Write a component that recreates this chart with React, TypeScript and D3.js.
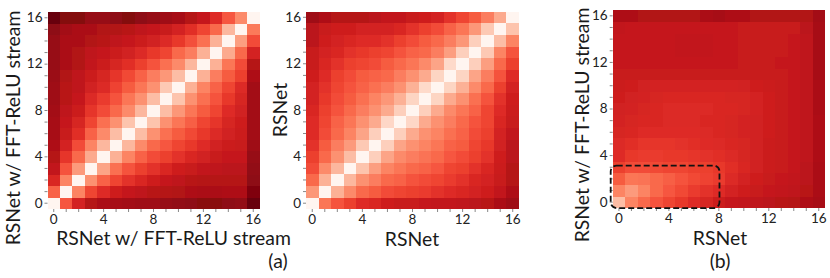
import { useEffect, useRef } from "react";
import * as d3 from "d3";

// cell values, row 0 = bottom row of the heatmap, in hundredths of the Reds scale
const leftMatrix = [
  [0, 55, 72, 82, 85, 86, 87, 88, 88, 90, 91, 92, 93, 93, 92, 91, 100],
  [52, 0, 42, 60, 68, 74, 77, 79, 81, 82, 83, 84, 85, 85, 84, 84, 95],
  [70, 42, 0, 38, 52, 60, 66, 70, 74, 77, 79, 81, 82, 82, 82, 82, 92],
  [78, 56, 35, 0, 32, 48, 56, 62, 66, 70, 74, 76, 78, 79, 80, 80, 91],
  [82, 65, 50, 30, 0, 28, 42, 52, 58, 62, 66, 70, 73, 76, 77, 77, 90],
  [84, 72, 58, 42, 26, 0, 26, 40, 50, 55, 60, 64, 68, 73, 75, 76, 88],
  [86, 76, 67, 52, 40, 24, 0, 24, 38, 48, 54, 59, 64, 69, 73, 75, 87],
  [86, 77, 71, 60, 48, 38, 22, 0, 22, 38, 46, 53, 60, 65, 71, 74, 87],
  [87, 79, 75, 65, 58, 50, 40, 26, 0, 24, 36, 46, 54, 60, 68, 73, 87],
  [88, 81, 77, 69, 63, 56, 46, 38, 24, 0, 22, 38, 48, 56, 64, 71, 87],
  [88, 81, 79, 73, 69, 61, 54, 46, 38, 20, 0, 28, 42, 52, 60, 69, 87],
  [89, 83, 79, 75, 71, 65, 59, 52, 44, 36, 24, 0, 28, 44, 54, 62, 84],
  [90, 85, 83, 78, 75, 71, 67, 62, 56, 48, 40, 26, 0, 28, 46, 58, 82],
  [90, 85, 83, 79, 77, 75, 73, 69, 64, 60, 50, 44, 28, 0, 30, 50, 72],
  [90, 85, 85, 83, 81, 79, 77, 75, 73, 69, 64, 57, 48, 28, 0, 34, 58],
  [92, 87, 85, 85, 83, 83, 81, 79, 77, 76, 72, 67, 60, 50, 26, 0, 45],
  [100, 94, 94, 90, 90, 92, 94, 92, 90, 88, 86, 82, 77, 68, 55, 40, 0],
];

const middleMatrix = [
  [0, 46, 56, 62, 68, 70, 74, 76, 76, 77, 78, 78, 79, 80, 81, 85, 88],
  [36, 0, 28, 40, 50, 54, 58, 60, 62, 63, 66, 68, 70, 72, 74, 78, 84],
  [50, 28, 0, 26, 38, 44, 50, 52, 56, 58, 60, 63, 66, 70, 72, 76, 82],
  [58, 40, 26, 0, 22, 34, 42, 46, 50, 52, 55, 60, 62, 66, 70, 75, 82],
  [62, 50, 38, 24, 0, 18, 32, 40, 44, 47, 50, 55, 58, 62, 66, 74, 80],
  [66, 54, 44, 35, 20, 0, 18, 32, 38, 42, 46, 52, 54, 60, 64, 73, 80],
  [68, 58, 50, 42, 32, 18, 0, 18, 30, 38, 42, 48, 52, 58, 62, 72, 78],
  [68, 60, 52, 46, 38, 30, 15, 0, 15, 30, 38, 44, 50, 56, 60, 70, 76],
  [70, 62, 56, 50, 44, 38, 30, 18, 0, 18, 30, 40, 46, 52, 60, 68, 75],
  [72, 64, 58, 54, 48, 42, 36, 28, 16, 0, 16, 30, 38, 48, 56, 66, 74],
  [72, 66, 60, 56, 52, 48, 44, 38, 28, 14, 0, 16, 28, 40, 50, 62, 72],
  [74, 68, 62, 58, 54, 52, 50, 44, 38, 30, 16, 0, 16, 32, 44, 56, 68],
  [76, 70, 66, 62, 60, 58, 54, 50, 46, 40, 32, 14, 0, 18, 34, 50, 62],
  [76, 72, 70, 66, 64, 62, 60, 56, 52, 50, 44, 34, 18, 0, 20, 42, 56],
  [80, 74, 72, 70, 68, 68, 66, 62, 58, 54, 50, 44, 36, 18, 0, 24, 42],
  [80, 76, 74, 74, 72, 72, 72, 70, 66, 62, 58, 52, 46, 36, 20, 0, 22],
  [88, 84, 82, 82, 82, 80, 78, 78, 76, 74, 72, 66, 60, 54, 44, 30, 0],
];

const rightMatrix = [
  [24, 42, 50, 56, 60, 64, 68, 71, 75, 77, 78, 79, 80, 81, 82, 84, 86],
  [42, 35, 42, 50, 55, 59, 63, 66, 68, 72, 74, 76, 77, 78, 79, 81, 85],
  [54, 46, 47, 50, 53, 56, 59, 61, 63, 69, 72, 74, 76, 77, 78, 80, 85],
  [62, 58, 58, 59, 60, 60, 62, 62, 64, 67, 70, 73, 75, 76, 77, 80, 85],
  [68, 64, 63, 63, 64, 64, 65, 66, 67, 69, 71, 73, 75, 76, 77, 79, 84],
  [69, 67, 65, 65, 65, 66, 67, 68, 69, 70, 71, 73, 75, 76, 77, 79, 84],
  [71, 70, 68, 68, 68, 68, 68, 69, 70, 71, 72, 73, 74, 76, 77, 79, 84],
  [72, 71, 70, 70, 69, 69, 69, 70, 70, 71, 72, 73, 74, 76, 77, 79, 84],
  [73, 72, 71, 70, 69, 69, 69, 69, 70, 70, 71, 72, 74, 76, 77, 79, 85],
  [74, 73, 72, 71, 70, 70, 70, 70, 70, 71, 71, 72, 74, 76, 77, 79, 85],
  [75, 74, 73, 72, 72, 72, 72, 72, 72, 72, 73, 74, 75, 76, 77, 79, 85],
  [76, 76, 76, 76, 76, 76, 76, 76, 76, 76, 76, 76, 76, 76, 77, 79, 86],
  [77, 77, 77, 77, 77, 77, 77, 77, 77, 77, 76, 76, 76, 77, 77, 79, 86],
  [77, 77, 77, 77, 77, 78, 78, 78, 77, 77, 76, 76, 76, 76, 77, 79, 86],
  [77, 77, 77, 77, 77, 78, 78, 78, 77, 77, 76, 76, 76, 76, 77, 79, 86],
  [78, 77, 77, 77, 77, 77, 77, 77, 77, 77, 76, 76, 76, 76, 76, 80, 86],
  [84, 84, 83, 83, 83, 83, 83, 85, 86, 84, 84, 83, 83, 83, 83, 83, 87],
];

const cellIndex = d3.range(17);
const labelledTicks = [0, 4, 8, 12, 16];
const fontFamily = "Lato, 'Open Sans', sans-serif";

function drawHeatmap(svg: any, matrix: number[][], box: any) {
  const x = d3.scaleBand<number>().domain(cellIndex).range([box.left, box.right]);
  const y = d3.scaleBand<number>().domain(cellIndex).range([box.bottom, box.top]);
  const color = (v: number) => d3.interpolateReds(v / 100);

  const g = svg.append("g").attr("filter", "url(#soften)");
  matrix.forEach((row, r) => {
    g.selectAll(null)
      .data(row)
      .join("rect")
      .attr("x", (_d: number, c: number) => x(c))
      .attr("y", y(r))
      .attr("width", x.bandwidth() + 0.3)
      .attr("height", y.bandwidth() + 0.3)
      .attr("shape-rendering", "crispEdges")
      .attr("fill", (d: number) => color(d));
  });

  const tickFormat = (d: number) => (labelledTicks.includes(d) ? String(d) : "");

  const xAxis = svg.append("g")
    .attr("transform", `translate(0,${box.bottom})`)
    .call(d3.axisBottom(x).tickSize(3).tickPadding(2).tickFormat(tickFormat as any));
  const yAxis = svg.append("g")
    .attr("transform", `translate(${box.left},0)`)
    .call(d3.axisLeft(y).tickSize(3).tickPadding(2).tickFormat(tickFormat as any));

  [xAxis, yAxis].forEach((a) => {
    a.select(".domain").remove();
    a.selectAll("line").attr("stroke", "#555").attr("stroke-width", 0.7);
    a.selectAll("text")
      .attr("font-family", fontFamily)
      .attr("font-size", 13.5)
      .attr("fill", "#222");
  });

  return { x, y };
}

function addText(svg: any, str: string, px: number, py: number, size: number, rotate = false) {
  svg.append("text")
    .attr("text-anchor", "middle")
    .attr("dominant-baseline", "middle")
    .attr("transform", `translate(${px},${py})${rotate ? " rotate(-90)" : ""}`)
    .attr("font-family", fontFamily)
    .attr("font-size", size)
    .attr("fill", "#1a1a1a")
    .text(str);
}

export default function App() {
  const svgRef = useRef<SVGSVGElement>(null);

  useEffect(() => {
    const svg = d3.select(svgRef.current);
    svg.selectAll("*").remove();

    svg.append("defs")
      .append("filter")
      .attr("id", "soften")
      .append("feGaussianBlur")
      .attr("stdDeviation", 0.45);

    drawHeatmap(svg, leftMatrix, { left: 47.5, right: 259.5, top: 12, bottom: 209 });
    drawHeatmap(svg, middleMatrix, { left: 306, right: 519, top: 11.5, bottom: 209 });
    const { x, y } = drawHeatmap(svg, rightMatrix, { left: 612.7, right: 825, top: 10, bottom: 208 });

    addText(svg, "RSNet w/ FFT-ReLU stream", 15, 128, 19.4, true);
    addText(svg, "RSNet w/ FFT-ReLU stream", 173.5, 240, 19.4);
    addText(svg, "RSNet", 282, 110, 19.4, true);
    addText(svg, "RSNet", 412, 241, 19.4);
    addText(svg, "RSNet w/ FFT-ReLU stream", 584, 125, 19.4, true);
    addText(svg, "RSNet", 720, 240, 19.4);
    addText(svg, "(a)", 278, 263, 19.4);
    addText(svg, "(b)", 720, 263, 19.4);

    // dashed region in the low-frequency corner of panel (b)
    const step = x.step();
    const bx0 = x(0)! - 2;
    const bx1 = x(8)! + step * 0.55;
    const by0 = y(2)! - step * 0.6;
    const by1 = y(0)! + step - 0.7;
    svg.append("rect")
      .attr("x", bx0)
      .attr("y", by0)
      .attr("width", bx1 - bx0)
      .attr("height", by1 - by0)
      .attr("rx", 6)
      .attr("fill", "none")
      .attr("stroke", "#111")
      .attr("stroke-width", 1.8)
      .attr("stroke-dasharray", "6 3");
  }, []);

  return (
    <svg
      ref={svgRef}
      width={830}
      height={278}
      style={{ position: "absolute", left: 0, top: 0, background: "#fff" }}
    />
  );
}
